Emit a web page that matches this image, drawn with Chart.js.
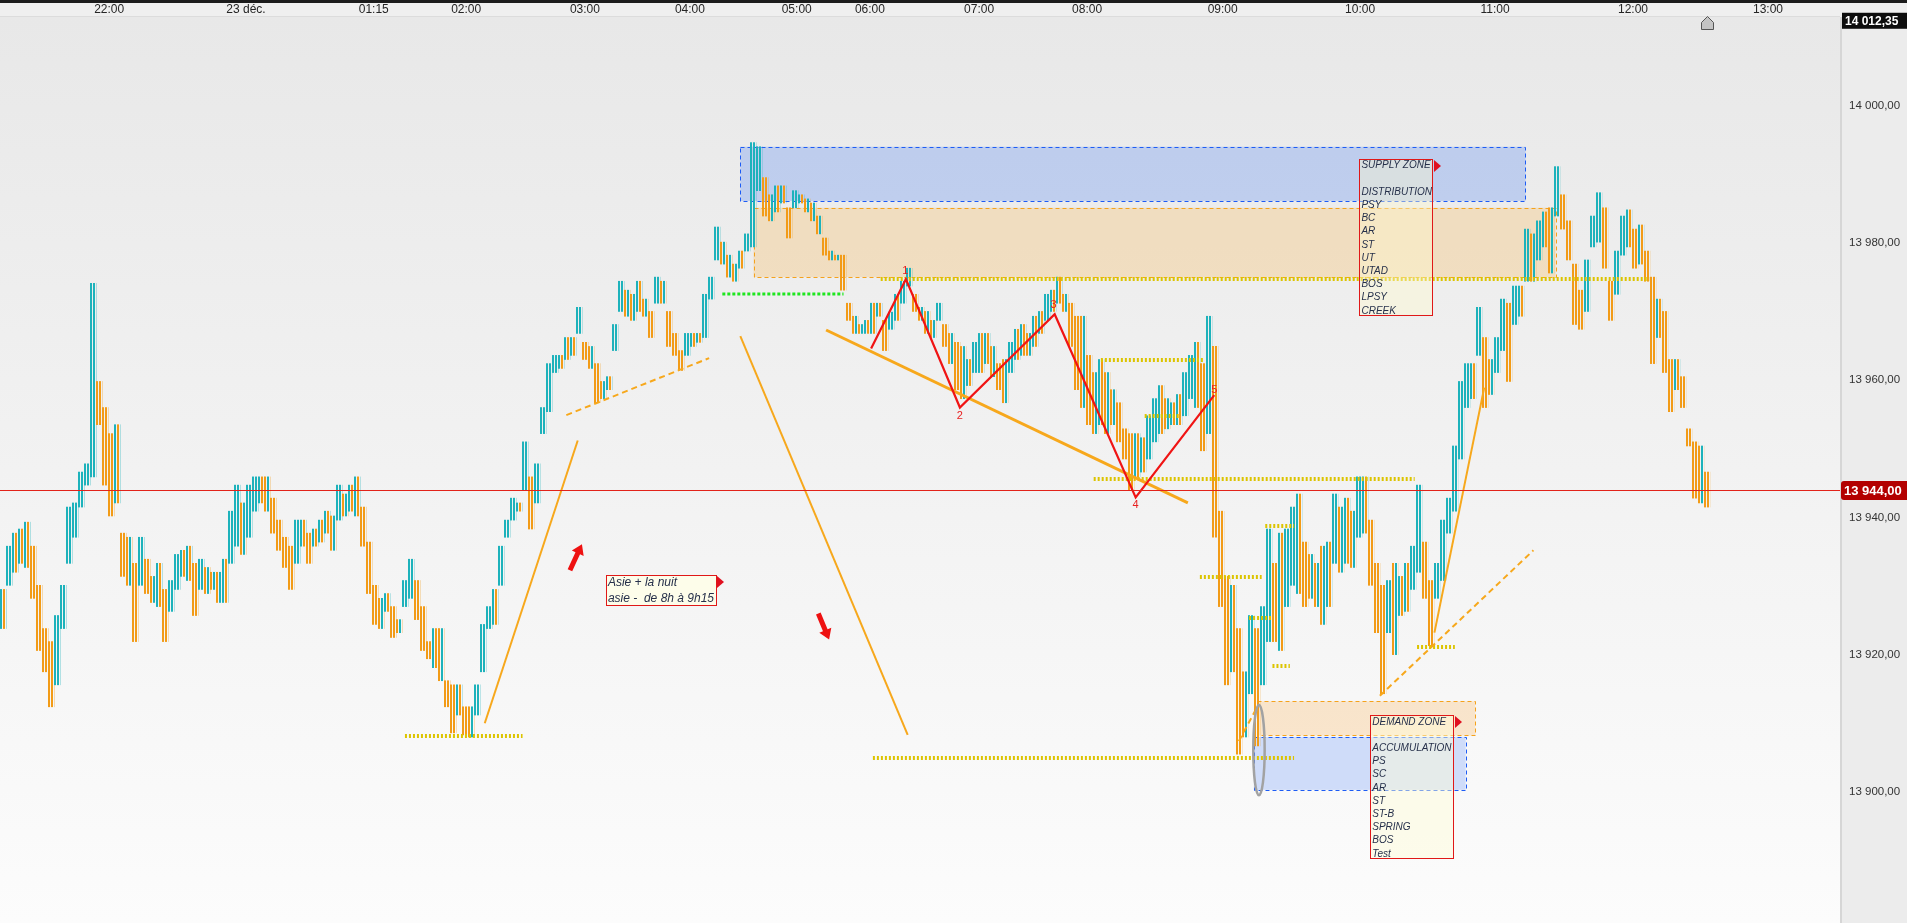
<!DOCTYPE html>
<html>
<head>
<meta charset="utf-8">
<script src="https://cdn.jsdelivr.net/npm/chart.js@4/dist/chart.umd.min.js"></script>
<style>
  html, body { margin: 0; padding: 0; background: #efefef; overflow: hidden; }
  #wrap { width: 1907px; height: 923px; }
</style>
</head>
<body>
<div id="wrap"><canvas id="chart"></canvas></div>
<script>
// one bar per slot (about 6 px of the original time axis), high / low
const barHigh = [
  13929.5, 13935.8, 13937.7, 13938.3, 13939.3, 13935.8, 13930.1, 13923.8, 13921.9, 13925.7,
  13930.1, 13941.5, 13942.1, 13946.6, 13947.8, 13974.1, 13959.8, 13956.0, 13952.2, 13953.5,
  13937.7, 13937.1, 13933.3, 13937.1, 13933.9, 13931.4, 13933.3, 13929.5, 13930.8, 13934.6,
  13935.2, 13935.8, 13933.3, 13933.9, 13932.7, 13932.0, 13932.0, 13933.9, 13940.9, 13944.7,
  13942.1, 13944.7, 13945.9, 13945.9, 13945.9, 13942.8, 13939.6, 13937.1, 13935.8, 13939.6,
  13939.6, 13937.7, 13938.3, 13939.6, 13940.9, 13940.2, 13944.7, 13943.4, 13944.7, 13945.9,
  13941.5, 13936.4, 13930.1, 13928.2, 13928.9, 13927.0, 13925.1, 13930.8, 13933.9, 13930.8,
  13927.0, 13921.9, 13923.8, 13923.8, 13916.2, 13915.6, 13915.6, 13912.4, 13912.4, 13915.6,
  13924.4, 13927.0, 13929.5, 13935.8, 13939.6, 13942.8, 13942.1, 13951.0, 13945.9, 13947.8,
  13956.0, 13962.4, 13963.6, 13963.6, 13966.2, 13966.2, 13970.6, 13965.5, 13964.9, 13962.4,
  13959.8, 13960.5, 13968.1, 13974.4, 13973.1, 13972.5, 13974.4, 13971.8, 13970.0, 13975.0,
  13974.4, 13970.0, 13966.8, 13964.3, 13966.8, 13966.8, 13966.8, 13972.5, 13975.0, 13982.3,
  13980.1, 13978.2, 13976.9, 13978.8, 13981.3, 13994.6, 13994.0, 13989.5, 13987.0, 13988.3,
  13988.3, 13985.1, 13987.6, 13987.0, 13986.4, 13985.8, 13983.9, 13980.7, 13978.8, 13978.2,
  13978.2, 13971.2, 13969.3, 13968.1, 13968.7, 13971.2, 13971.2, 13968.7, 13969.9, 13972.5,
  13974.4, 13976.3, 13972.5, 13970.6, 13970.0, 13968.7, 13971.2, 13968.1, 13966.8, 13965.5,
  13964.9, 13963.0, 13965.5, 13966.8, 13966.8, 13964.9, 13962.4, 13963.0, 13965.5, 13967.4,
  13968.1, 13966.8, 13969.3, 13970.0, 13972.5, 13973.1, 13975.0, 13972.5, 13971.2, 13969.3,
  13969.3, 13963.6, 13961.1, 13963.0, 13961.1, 13958.6, 13956.7, 13952.9, 13952.2, 13952.2,
  13951.6, 13954.8, 13957.3, 13959.2, 13957.3, 13956.7, 13957.9, 13961.1, 13963.6, 13965.5,
  13962.4, 13969.3, 13964.9, 13940.9, 13931.4, 13930.1, 13923.8, 13917.5, 13925.7, 13923.8,
  13927.0, 13938.3, 13933.3, 13937.7, 13938.3, 13941.5, 13943.4, 13936.4, 13934.6, 13933.3,
  13935.8, 13936.4, 13943.4, 13941.5, 13942.8, 13940.9, 13945.9, 13945.9, 13939.6, 13933.3,
  13930.1, 13930.8, 13933.3, 13931.4, 13933.3, 13935.8, 13944.7, 13936.4, 13930.8, 13933.3,
  13939.6, 13942.8, 13950.4, 13959.8, 13962.4, 13962.4, 13970.6, 13966.2, 13963.0, 13966.2,
  13971.8, 13971.2, 13973.7, 13973.7, 13982.0, 13981.3, 13983.2, 13984.5, 13985.1, 13991.1,
  13987.0, 13983.2, 13976.9, 13973.1, 13977.5, 13983.9, 13987.3, 13985.1, 13974.4, 13978.8,
  13983.9, 13984.8, 13982.0, 13982.6, 13978.8, 13975.0, 13971.8, 13970.0, 13963.0, 13963.0,
  13960.5, 13952.9, 13951.0, 13950.4, 13946.6
];
const barLow = [
  13923.8, 13930.1, 13932.0, 13933.3, 13932.7, 13928.2, 13920.6, 13917.5, 13912.4, 13915.6,
  13923.8, 13933.3, 13937.1, 13941.5, 13944.7, 13945.9, 13953.5, 13944.7, 13940.2, 13942.1,
  13931.4, 13930.1, 13921.9, 13930.1, 13928.9, 13927.6, 13927.0, 13921.9, 13926.3, 13929.5,
  13931.4, 13930.8, 13925.7, 13929.5, 13928.9, 13929.5, 13927.6, 13927.6, 13933.3, 13935.8,
  13934.6, 13937.1, 13940.9, 13942.1, 13940.9, 13937.7, 13935.2, 13932.7, 13929.5, 13933.3,
  13935.8, 13933.3, 13935.8, 13936.4, 13937.7, 13935.2, 13939.6, 13940.2, 13940.9, 13940.2,
  13935.8, 13928.9, 13924.4, 13923.8, 13926.3, 13922.5, 13923.2, 13927.0, 13928.2, 13925.1,
  13920.6, 13919.4, 13918.1, 13916.2, 13912.4, 13908.6, 13911.2, 13908.3, 13908.0, 13911.2,
  13917.5, 13923.8, 13924.4, 13930.1, 13937.1, 13939.6, 13940.9, 13944.0, 13938.3, 13942.1,
  13952.2, 13955.4, 13961.1, 13961.7, 13963.0, 13963.6, 13966.8, 13963.0, 13961.7, 13956.7,
  13957.3, 13958.6, 13964.3, 13970.0, 13969.3, 13968.7, 13970.0, 13969.3, 13966.2, 13971.2,
  13971.2, 13964.9, 13963.6, 13961.4, 13963.6, 13964.9, 13965.5, 13966.2, 13971.8, 13977.5,
  13976.9, 13975.0, 13974.4, 13976.3, 13978.8, 13979.4, 13987.6, 13983.9, 13983.2, 13984.5,
  13985.8, 13980.7, 13985.1, 13985.8, 13984.5, 13983.2, 13981.3, 13978.2, 13977.5, 13977.5,
  13973.1, 13968.7, 13966.8, 13966.8, 13966.8, 13966.8, 13969.3, 13964.3, 13967.4, 13968.7,
  13971.2, 13973.7, 13970.0, 13968.7, 13966.8, 13966.2, 13968.7, 13964.9, 13962.4, 13958.6,
  13957.3, 13959.2, 13961.1, 13961.1, 13962.4, 13960.5, 13958.6, 13956.7, 13961.1, 13963.0,
  13963.6, 13963.6, 13964.9, 13966.8, 13968.7, 13970.0, 13971.2, 13970.0, 13964.9, 13958.6,
  13956.0, 13953.5, 13952.2, 13953.5, 13952.2, 13953.5, 13951.0, 13948.5, 13944.0, 13945.9,
  13946.6, 13948.5, 13951.0, 13952.2, 13952.9, 13953.5, 13953.5, 13954.8, 13957.3, 13956.0,
  13949.7, 13952.2, 13937.1, 13927.0, 13915.6, 13917.5, 13905.5, 13908.0, 13914.3, 13906.7,
  13915.6, 13921.9, 13921.9, 13920.6, 13927.0, 13930.1, 13928.9, 13927.0, 13928.2, 13927.0,
  13924.4, 13927.0, 13933.3, 13932.0, 13933.3, 13932.7, 13937.1, 13937.7, 13930.1, 13923.2,
  13914.3, 13923.2, 13920.0, 13925.7, 13926.3, 13929.5, 13932.0, 13928.2, 13921.3, 13928.2,
  13930.8, 13937.7, 13940.9, 13948.5, 13956.0, 13957.3, 13963.6, 13956.0, 13957.9, 13961.1,
  13964.3, 13959.8, 13968.1, 13969.3, 13974.4, 13974.4, 13977.5, 13979.4, 13975.6, 13983.9,
  13982.0, 13977.5, 13968.1, 13967.4, 13970.0, 13979.4, 13980.1, 13976.3, 13968.7, 13972.5,
  13978.2, 13979.4, 13976.3, 13976.9, 13974.4, 13962.4, 13966.2, 13961.1, 13955.4, 13958.6,
  13956.0, 13950.4, 13942.8, 13942.1, 13941.5
];

// time axis: the platform compresses quiet hours, so labels sit at bar slots
const timeTickSlots = [17.7, 40.5, 61.8, 77.2, 97, 114.5, 132.3, 144.5, 162.7, 180.7, 203.3, 226.2, 248.7, 271.7, 294.2];
const timeTickLabels = ['22:00', '23 déc.', '01:15', '02:00', '03:00', '04:00', '05:00', '06:00', '07:00', '08:00', '09:00', '10:00', '11:00', '12:00', '13:00'];
const priceTicks = [13900, 13920, 13940, 13960, 13980, 14000];
const lastPrice = 13944;
const scaleTopPrice = 14012.35;

// drawings, in [slot, price]
const supplyBlue = [122.9, 253.8, 13986.1, 13994.0];
const supplyOrange = [125.1, 258.8, 13975.0, 13985.1];
const demandOrange = [209.1, 245.4, 13908.2, 13913.2];
const demandBlue = [208.5, 243.8, 13900.3, 13908.0];
const yellowLevels = [
  [13974.7, 146.3, 274.4], [13908.2, 67.0, 86.6], [13905.0, 145.0, 215.2],
  [13962.9, 183.0, 200.0], [13954.8, 190.3, 196.1], [13945.6, 181.8, 235.3],
  [13938.7, 210.4, 215.2], [13931.3, 199.5, 209.8], [13925.4, 207.7, 211.6],
  [13918.4, 211.6, 214.5], [13921.1, 235.7, 242.0]
];
const greenLevel = [13972.5, 119.9, 140.1];
const orangeSolid = [
  [80.3, 13910.0, 95.8, 13951.2], [122.9, 13966.4, 150.8, 13908.3], [238.6, 13923.2, 246.9, 13958.9]
];
const orangeThick = [137.2, 13967.3, 197.5, 13942.1];
const orangeDashed = [
  [93.9, 13954.9, 117.7, 13963.2], [229.5, 13914.0, 255.1, 13935.2], [206.0, 13907.4, 208.7, 13911.8]
];
const wavePoints = [[144.7, 13964.6], [150.5, 13974.7], [159.5, 13956.0], [175.3, 13969.6], [188.8, 13942.9], [201.9, 13957.8]];
const waveLabels = [['1', 150.4, 13975.9], ['2', 159.5, 13954.8], ['3', 175.1, 13970.9], ['4', 188.8, 13941.8], ['5', 201.9, 13958.6]];
const arrows = [[94.5, 13932.3, 96.5, 13936.1], [135.9, 13926.0, 137.7, 13922.2]];
const springEllipse = [208.4, 210.3, 13899.5, 13912.7];
const asieBox = [100.5, 118.9, 13931.6, 13927.2];
const asieLines = ['Asie + la nuit', 'asie -  de 8h à 9h15'];
const supplyBox = [226.1, 238.3, 13992.2, 13969.5];
const supplyLines = ['SUPPLY ZONE', '', 'DISTRIBUTION', 'PSY', 'BC', 'AR', 'ST', 'UT', 'UTAD', 'BOS', 'LPSY', 'CREEK'];
const demandBox = [227.9, 241.8, 13911.2, 13890.3];
const demandLines = ['DEMAND ZONE', '', 'ACCUMULATION', 'PS', 'SC', 'AR', 'ST', 'ST-B', 'SPRING', 'BOS', 'Test'];

const FONT = '"Liberation Sans", Arial, sans-serif';
Chart.defaults.font.family = FONT;

const TEAL = '#1db2bb', ORANGE = '#f29b17';

const fmtPrice = v => {
  const s = v.toFixed(2).replace('.', ',');
  return s.slice(0, -6) + ' ' + s.slice(-6);
};

// thin minute-bar look: each slot is filled with 2px stripes
const canvasNode = document.getElementById('chart');
function stripes(c1, c2) {
  const p = document.createElement('canvas');
  p.width = 6;
  p.height = 1;
  const g = p.getContext('2d');
  g.fillStyle = c1;
  g.fillRect(0, 0, 2, 1);
  g.fillStyle = c2;
  g.fillRect(3, 0, 2, 1);
  return canvasNode.getContext('2d').createPattern(p, 'repeat');
}
const upFill = stripes(TEAL, TEAL), downFill = stripes(ORANGE, ORANGE);
const upMixed = stripes(TEAL, ORANGE), downMixed = stripes(ORANGE, TEAL);

const barFills = barHigh.map((h, i) => {
  if (i === 0) return upMixed;
  const d = (h + barLow[i]) / 2 - (barHigh[i - 1] + barLow[i - 1]) / 2;
  if (d >= 2) return upFill;
  if (d >= 0) return upMixed;
  if (d > -2) return downMixed;
  return downFill;
});

function line(ctx, pts, color, width, dash) {
  ctx.save();
  ctx.strokeStyle = color;
  ctx.lineWidth = width;
  ctx.setLineDash(dash || []);
  ctx.beginPath();
  pts.forEach((p, i) => i ? ctx.lineTo(p[0], p[1]) : ctx.moveTo(p[0], p[1]));
  ctx.stroke();
  ctx.restore();
}

function zone(ctx, px, py, r, fill, stroke) {
  const x0 = px(r[0]), x1 = px(r[1]), y0 = py(r[3]), y1 = py(r[2]);
  ctx.save();
  ctx.fillStyle = fill;
  ctx.fillRect(x0, y0, x1 - x0, y1 - y0);
  ctx.strokeStyle = stroke;
  ctx.lineWidth = 1;
  ctx.setLineDash([4, 3]);
  ctx.strokeRect(Math.round(x0) + 0.5, Math.round(y0) + 0.5, Math.round(x1 - x0), Math.round(y1 - y0));
  ctx.restore();
}

function flag(ctx, x, y) {
  ctx.fillStyle = '#e01020';
  ctx.beginPath();
  ctx.moveTo(x, y);
  ctx.lineTo(x + 7, y + 6);
  ctx.lineTo(x, y + 12);
  ctx.closePath();
  ctx.fill();
}

function textBox(ctx, px, py, box, lines, fill, size, step, first) {
  const x0 = px(box[0]), x1 = px(box[1]), y0 = py(box[2]), y1 = py(box[3]);
  ctx.save();
  ctx.fillStyle = fill;
  ctx.fillRect(x0, y0, x1 - x0, y1 - y0);
  ctx.strokeStyle = '#e01818';
  ctx.lineWidth = 1;
  ctx.strokeRect(Math.round(x0) + 0.5, Math.round(y0) + 0.5, Math.round(x1 - x0), Math.round(y1 - y0));
  flag(ctx, Math.round(x1) + 1, Math.round(y0) + 1);
  ctx.fillStyle = '#26304a';
  ctx.font = 'italic ' + size + 'px ' + FONT;
  ctx.textBaseline = 'middle';
  ctx.textAlign = 'left';
  lines.forEach((t, i) => ctx.fillText(t, x0 + 2, y0 + first + i * step));
  ctx.restore();
}

function arrow(ctx, xa, ya, xb, yb) {
  const ang = Math.atan2(yb - ya, xb - xa);
  const len = Math.hypot(xb - xa, yb - ya);
  ctx.save();
  ctx.translate(xa, ya);
  ctx.rotate(ang);
  ctx.fillStyle = '#ee1111';
  ctx.beginPath();
  ctx.moveTo(0, -2.5);
  ctx.lineTo(len - 10, -2.5);
  ctx.lineTo(len - 10, -6.5);
  ctx.lineTo(len, 0);
  ctx.lineTo(len - 10, 6.5);
  ctx.lineTo(len - 10, 2.5);
  ctx.lineTo(0, 2.5);
  ctx.closePath();
  ctx.fill();
  ctx.restore();
}

const sketchPlugin = {
  id: 'sketch',
  beforeDraw(chart) {
    const { ctx, chartArea: a, width, height } = chart;
    ctx.save();
    ctx.fillStyle = '#efefef';
    ctx.fillRect(0, 0, width, height);
    const g = ctx.createLinearGradient(0, a.top, 0, a.bottom);
    g.addColorStop(0, '#e8e8e8');
    g.addColorStop(1, '#fcfcfc');
    ctx.fillStyle = g;
    ctx.fillRect(a.left, a.top, a.right - a.left, height - a.top);
    ctx.fillStyle = '#ececec';
    ctx.fillRect(a.right, a.top, width - a.right, height - a.top);
    ctx.fillStyle = '#d6d6d6';
    ctx.fillRect(a.right, a.top, 2, height - a.top);
    ctx.fillStyle = '#dcdcdc';
    ctx.fillRect(0, a.top - 1, a.right, 1);
    ctx.fillStyle = '#1c1c1c';
    ctx.fillRect(0, 0, width, 3);
    ctx.restore();
  },
  beforeDatasetsDraw(chart) {
    const { ctx, chartArea: a, scales } = chart;
    const px = v => scales.x.getPixelForValue(v), py = v => scales.y.getPixelForValue(v);
    ctx.save();
    ctx.beginPath();
    ctx.rect(a.left, a.top, a.right - a.left, a.bottom - a.top);
    ctx.clip();
    zone(ctx, px, py, supplyBlue, 'rgba(150,178,240,0.52)', '#1d5cf5');
    zone(ctx, px, py, supplyOrange, 'rgba(244,205,148,0.5)', '#f5a21c');
    zone(ctx, px, py, demandOrange, 'rgba(250,210,160,0.5)', '#f5a21c');
    zone(ctx, px, py, demandBlue, 'rgba(165,192,250,0.5)', '#1d5cf5');
    ctx.restore();
  },
  afterDatasetsDraw(chart) {
    const { ctx, chartArea: a, scales } = chart;
    const px = v => scales.x.getPixelForValue(v), py = v => scales.y.getPixelForValue(v);
    ctx.save();
    ctx.beginPath();
    ctx.rect(a.left, a.top, a.right - a.left, a.bottom - a.top);
    ctx.clip();

    yellowLevels.forEach(l => line(ctx, [[px(l[1]), Math.round(py(l[0]))], [px(l[2]), Math.round(py(l[0]))]], '#dcc400', 4, [2, 2]));
    line(ctx, [[px(greenLevel[1]), Math.round(py(greenLevel[0]))], [px(greenLevel[2]), Math.round(py(greenLevel[0]))]], '#1ee61e', 3, [3, 2]);

    orangeSolid.forEach(l => line(ctx, [[px(l[0]), py(l[1])], [px(l[2]), py(l[3])]], '#f7a81c', 2));
    line(ctx, [[px(orangeThick[0]), py(orangeThick[1])], [px(orangeThick[2]), py(orangeThick[3])]], '#f7a81c', 3);
    orangeDashed.forEach(l => line(ctx, [[px(l[0]), py(l[1])], [px(l[2]), py(l[3])]], '#f7a81c', 2, [6, 4]));

    line(ctx, wavePoints.map(p => [px(p[0]), py(p[1])]), '#f01414', 2.2);
    ctx.fillStyle = '#e82020';
    ctx.font = '11px ' + FONT;
    ctx.textAlign = 'center';
    ctx.textBaseline = 'middle';
    waveLabels.forEach(l => ctx.fillText(l[0], px(l[1]), py(l[2])));

    arrows.forEach(r => arrow(ctx, px(r[0]), py(r[1]), px(r[2]), py(r[3])));

    const ex0 = px(springEllipse[0]), ex1 = px(springEllipse[1]);
    const ey0 = py(springEllipse[3]), ey1 = py(springEllipse[2]);
    ctx.strokeStyle = '#a2a2a2';
    ctx.lineWidth = 2.5;
    ctx.beginPath();
    ctx.ellipse((ex0 + ex1) / 2, (ey0 + ey1) / 2, (ex1 - ex0) / 2, (ey1 - ey0) / 2, 0, 0, Math.PI * 2);
    ctx.stroke();

    textBox(ctx, px, py, asieBox, asieLines, '#fdfdea', 12, 16, 8);
    textBox(ctx, px, py, supplyBox, supplyLines, 'rgba(255,250,205,0.4)', 10, 13.2, 6.5);
    textBox(ctx, px, py, demandBox, demandLines, 'rgba(255,252,215,0.45)', 10, 13.2, 6.7);

    const yl = Math.round(py(lastPrice)) + 0.5;
    line(ctx, [[a.left, yl], [a.right, yl]], '#e2231a', 1);
    ctx.restore();
  },
  afterDraw(chart) {
    const { ctx, chartArea: a, scales, width } = chart;
    const px = v => scales.x.getPixelForValue(v), py = v => scales.y.getPixelForValue(v);
    ctx.save();
    // last price tag
    const yl = Math.round(py(lastPrice));
    ctx.fillStyle = '#b30000';
    ctx.beginPath();
    ctx.roundRect(a.right + 1, yl - 9, width - a.right - 1, 19, [3, 0, 0, 3]);
    ctx.fill();
    ctx.fillStyle = '#ffffff';
    ctx.font = 'bold 13px ' + FONT;
    ctx.textBaseline = 'middle';
    ctx.textAlign = 'left';
    ctx.fillText(fmtPrice(lastPrice), a.right + 4, yl + 1);
    // top of scale tag
    const yt = Math.max(py(scaleTopPrice), 19);
    ctx.fillStyle = '#0d0d0d';
    ctx.fillRect(a.right + 2, yt - 8, width - a.right - 2, 16);
    ctx.fillStyle = '#ffffff';
    ctx.font = 'bold 12px ' + FONT;
    ctx.fillText(fmtPrice(scaleTopPrice), a.right + 5, yt + 1);
    // last bar marker
    const xm = Math.round(px(barHigh.length - 1)) + 0.5;
    ctx.fillStyle = '#c4c4c4';
    ctx.strokeStyle = '#555';
    ctx.lineWidth = 1;
    ctx.beginPath();
    ctx.moveTo(xm - 6, 29.5);
    ctx.lineTo(xm + 6, 29.5);
    ctx.lineTo(xm + 6, 22.5);
    ctx.lineTo(xm, 16.5);
    ctx.lineTo(xm - 6, 22.5);
    ctx.closePath();
    ctx.fill();
    ctx.stroke();
    ctx.restore();
  }
};

const priceBars = barHigh.map((h, i) => ({ x: i, y: [barLow[i], h] }));

new Chart(canvasNode, {
  type: 'bar',
  data: {
    datasets: [{
      label: 'DAX',
      data: priceBars,
      backgroundColor: barFills,
      borderWidth: 0,
      barThickness: 6
    }]
  },
  options: {
    responsive: true,
    maintainAspectRatio: false,
    animation: false,
    events: [],
    layout: { padding: 0 },
    plugins: { legend: { display: false }, tooltip: { enabled: false } },
    scales: {
      x: {
        type: 'linear',
        position: 'top',
        offset: false,
        min: -0.5,
        max: 306.2,
        grid: { display: false, drawTicks: false, offset: false },
        border: { display: false },
        afterBuildTicks: s => { s.ticks = timeTickSlots.map(v => ({ value: v })); },
        afterFit: s => { s.height = 17; s.paddingLeft = 0; s.paddingRight = 0; },
        ticks: {
          autoSkip: false,
          maxRotation: 0,
          padding: 0,
          color: '#252525',
          font: { size: 12 },
          callback: (v, i) => timeTickLabels[i]
        }
      },
      y: {
        position: 'right',
        min: 13880.9,
        max: 14012.9,
        grid: { display: false, drawTicks: false },
        border: { display: false },
        afterBuildTicks: s => { s.ticks = priceTicks.map(v => ({ value: v })); },
        afterFit: s => { s.width = 67; s.paddingTop = 0; s.paddingBottom = 0; },
        ticks: {
          padding: 9,
          color: '#333',
          font: { size: 11.5 },
          callback: v => fmtPrice(v)
        }
      }
    }
  },
  plugins: [sketchPlugin]
});
</script>
</body>
</html>
